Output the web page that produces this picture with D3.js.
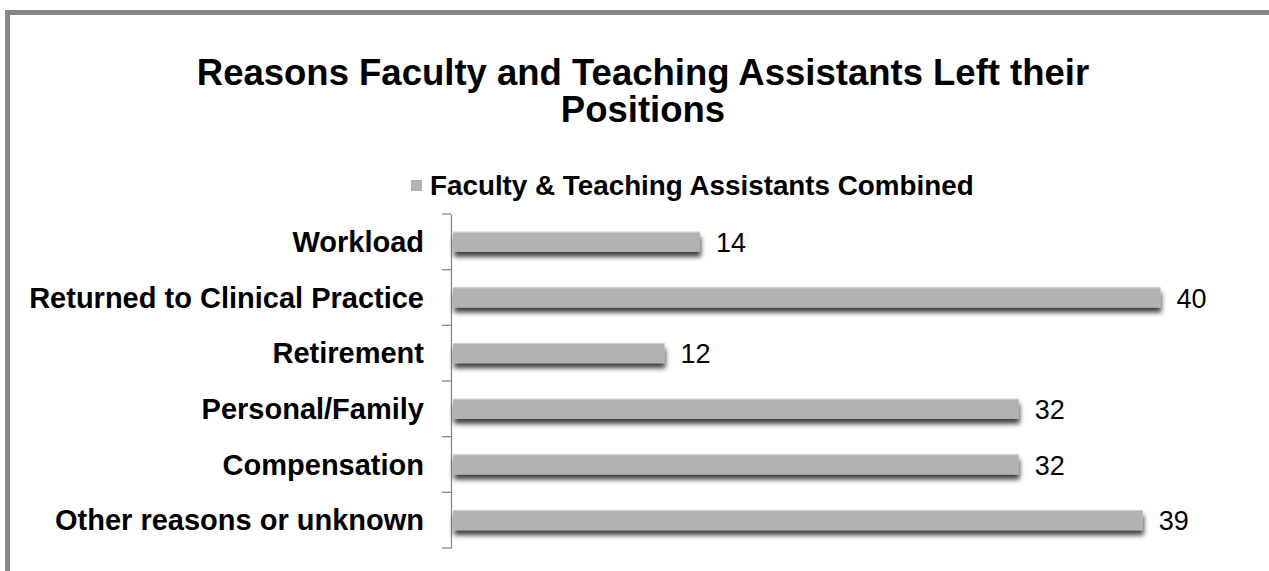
<!DOCTYPE html>
<html>
<head>
<meta charset="utf-8">
<script src="https://cdn.jsdelivr.net/npm/d3@7"></script>
<style>
  html, body { margin: 0; padding: 0; background: #fff; overflow: hidden; }
  svg { display: block; }
  text { font-family: "Liberation Sans", Arial, sans-serif; }
</style>
</head>
<body>
<svg id="chart" width="1269" height="571"></svg>
<script>
const categories = ["Workload", "Returned to Clinical Practice", "Retirement", "Personal/Family", "Compensation", "Other reasons or unknown"];
const values = [14, 40, 12, 32, 32, 39];
const seriesName = "Faculty & Teaching Assistants Combined";
const titleLines = ["Reasons Faculty and Teaching Assistants Left their", "Positions"];

const W = 1269, H = 571;
const svg = d3.select("#chart");

const defs = svg.append("defs");
const f = defs.append("filter").attr("id", "shadow").attr("x", "-5%").attr("y", "-50%").attr("width", "110%").attr("height", "250%");
f.append("feDropShadow").attr("dx", 1).attr("dy", 5).attr("stdDeviation", 2.4)
  .attr("flood-color", "#000").attr("flood-opacity", 0.75);

// outer border
svg.append("rect").attr("x", 7.5).attr("y", 12.5).attr("width", W + 20).attr("height", H + 20)
  .attr("fill", "#fff").attr("stroke", "#878787").attr("stroke-width", 5);

// title
titleLines.forEach((t, i) => {
  svg.append("text")
    .attr("x", 643).attr("y", 85 + i * 37)
    .attr("text-anchor", "middle")
    .attr("font-size", 36.5).attr("font-weight", "bold").attr("fill", "#000")
    .text(t);
});

// legend
svg.append("rect").attr("x", 411).attr("y", 180).attr("width", 11).attr("height", 11).attr("fill", "#b2b2b2");
svg.append("text")
  .attr("x", 430).attr("y", 195)
  .attr("font-size", 27.8).attr("font-weight", "bold").attr("fill", "#000")
  .text(seriesName);

// scales
const x = d3.scaleLinear().domain([0, 45]).range([452, 1249]);
const y = d3.scaleBand().domain(categories).range([214, 548]).paddingInner(0.64).paddingOuter(0.32);
const yAxisScale = d3.scaleBand().domain(categories).range([214, 548]);

// axis
const axisG = svg.append("g").attr("transform", "translate(451,0)")
  .call(d3.axisLeft(yAxisScale).tickSize(0).tickFormat(""));
axisG.select(".domain").attr("stroke", "#888").attr("stroke-width", 1.3);
const bounds = categories.map(c => yAxisScale(c)).concat([yAxisScale.range()[1]]);
axisG.selectAll(".bt").data(bounds).enter().append("line")
  .attr("x1", -9).attr("x2", 0).attr("y1", d => d).attr("y2", d => d)
  .attr("stroke", "#888").attr("stroke-width", 1.3);

// bars
svg.append("g").selectAll("rect").data(values).enter().append("rect")
  .attr("x", x(0) + 1)
  .attr("y", (d, i) => y(categories[i]))
  .attr("width", d => x(d) - x(0) - 1)
  .attr("height", y.bandwidth())
  .attr("fill", "#b2b2b2")
  .attr("filter", "url(#shadow)");
svg.append("g").selectAll("line").data(values).enter().append("line")
  .attr("x1", x(0) + 1).attr("x2", d => x(d))
  .attr("y1", (d, i) => y(categories[i]) + 0.5).attr("y2", (d, i) => y(categories[i]) + 0.5)
  .attr("stroke", "#cfcfcf").attr("stroke-width", 1);

// category labels
svg.append("g").selectAll("text").data(categories).enter().append("text")
  .attr("x", 424)
  .attr("y", c => yAxisScale(c) + yAxisScale.bandwidth() / 2 + 10)
  .attr("text-anchor", "end")
  .attr("font-size", 29).attr("font-weight", "bold").attr("fill", "#000")
  .text(c => c);

// value labels
svg.append("g").selectAll("text").data(values).enter().append("text")
  .attr("x", d => x(d) + 16)
  .attr("y", (d, i) => y(categories[i]) + y.bandwidth() / 2 + 10)
  .attr("font-size", 27).attr("fill", "#000")
  .text(d => d);
</script>
</body>
</html>
